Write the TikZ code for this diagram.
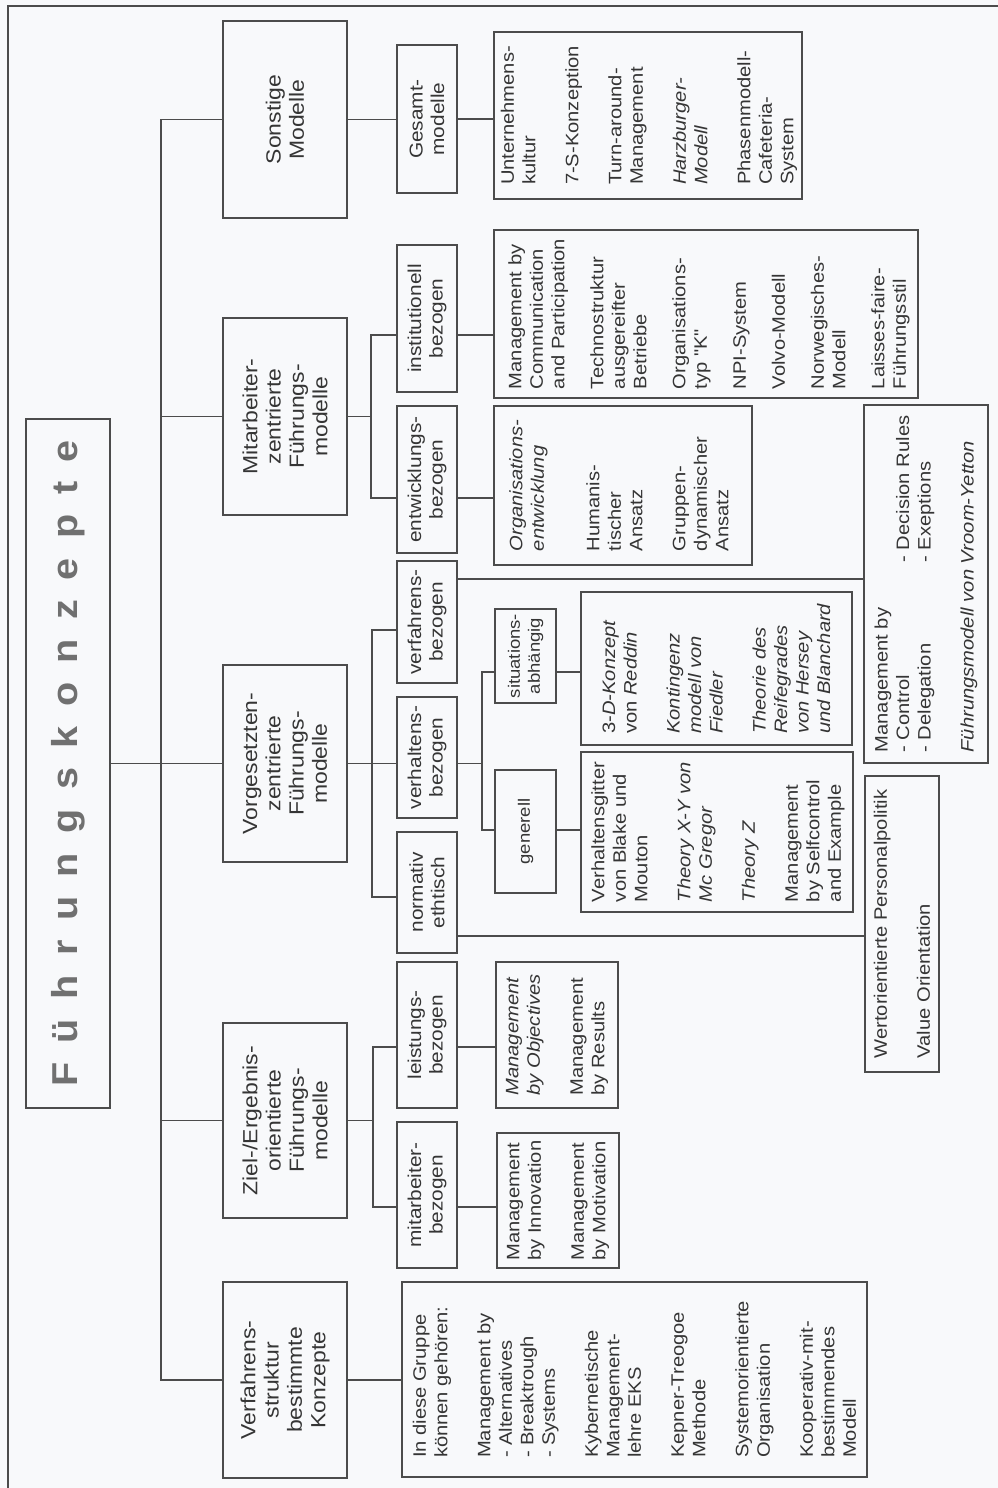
\documentclass[tikz,border=0pt]{standalone}
\usepackage{fontspec}
\newfontfamily\lf[FakeStretch=1.12]{Liberation Sans}
\newfontfamily\ttlf[FakeStretch=1.1]{Liberation Sans}
\definecolor{lc}{HTML}{4C4C4C}
\definecolor{tc}{HTML}{353535}
\definecolor{ttl}{HTML}{707070}
\definecolor{bg}{HTML}{F8F9FB}
\newcommand\tsp{\hspace{19.5pt}}

\begin{document}
\begin{tikzpicture}[x=1pt,y=-1pt,
  conn/.style={draw=lc, line width=1.1pt},
  bx/.style={draw=lc, line width=1.1pt, rotate=90, inner sep=0pt, text=tc},
  lvA/.style={bx, minimum height=124pt, align=center, font=\lf\fontsize{20.5}{23.3}\selectfont},
  lvB/.style={bx, minimum height=60pt, align=center, font=\lf\fontsize{18.6}{21.5}\selectfont},
  lvC/.style={bx, minimum height=61pt, align=center, font=\lf\fontsize{16.5}{20}\selectfont},
  lst/.style={bx},
  lsttxt/.style={rotate=90, inner sep=0pt, align=left, text=tc, font=\lf\fontsize{18}{21.5}\selectfont}
]
\fill[bg] (0,0) rectangle (998,1488);
\useasboundingbox (0,0) rectangle (998,1488);

% outer frame
\draw[lc, line width=1.1pt] (8,1488) -- (8,6) -- (998,6);

% title
\node[bx, minimum width=689pt, minimum height=84pt, text=ttl,
      font=\ttlf\bfseries\fontsize{36}{40}\selectfont] (title) at (68,763.5)
  {F\tsp ü\tsp h\tsp r\tsp u\tsp n\tsp g\tsp s\tsp k\tsp o\tsp n\tsp z\tsp e\tsp p\tsp t\tsp e};

% first level
\node[lvA, minimum width=197pt] (sm) at (285,119.5) {Sonstige\\Modelle};
\node[lvA, minimum width=197pt] (mz) at (285,416.5) {Mitarbeiter-\\zentrierte\\Führungs-\\modelle};
\node[lvA, minimum width=197pt] (vz) at (285,763.5) {Vorgesetzten-\\zentrierte\\Führungs-\\modelle};
\node[lvA, minimum width=195pt] (ze) at (285,1120.5) {Ziel-/Ergebnis-\\orientierte\\Führungs-\\modelle};
\node[lvA, minimum width=196pt] (vs) at (285,1380) {Verfahrens-\\struktur\\bestimmte\\Konzepte};

% second level
\node[lvB, minimum width=148pt] (gm)  at (427,119)   {Gesamt-\\modelle};
\node[lvB, minimum width=147pt] (ib)  at (427,318.5) {institutionell\\bezogen};
\node[lvB, minimum width=147pt] (eb)  at (427,479.5) {entwicklungs-\\bezogen};
\node[lvB, minimum width=122pt] (vfb) at (427,622)   {verfahrens-\\bezogen};
\node[lvB, minimum width=121pt] (vhb) at (427,757.5) {verhaltens-\\bezogen};
\node[lvB, minimum width=121pt] (neb) at (427,892.5) {normativ\\ethtisch};
\node[lvB, minimum width=146pt] (lb)  at (427,1035)  {leistungs-\\bezogen};
\node[lvB, minimum width=146pt] (mb)  at (427,1195)  {mitarbeiter-\\bezogen};

% third level
\node[lvC, minimum width=94pt]  (sa) at (525.5,656)   {situations-\\abhängig};
\node[lvC, minimum width=123pt] (ge) at (525.5,831.5) {generell};

% list boxes
\node[lst, minimum width=167pt, minimum height=308pt] (sl)  at (648,115.5) {};
\node[lst, minimum width=168pt, minimum height=424pt] (il)  at (706,314) {};
\node[lst, minimum width=159pt, minimum height=258pt] (el)  at (623,485.5) {};
\node[lst, minimum width=153pt, minimum height=271pt] (sal) at (716.5,668.5) {};
\node[lst, minimum width=160pt, minimum height=272pt] (gl)  at (717,832) {};
\node[lst, minimum width=358pt, minimum height=124pt] (vr)  at (926,584) {};
\node[lst, minimum width=296pt, minimum height=74pt]  (wo)  at (902,924) {};
\node[lst, minimum width=146pt, minimum height=122pt] (ll)  at (557,1035) {};
\node[lst, minimum width=135pt, minimum height=122pt] (ml)  at (558,1200.5) {};
\node[lst, minimum width=195pt, minimum height=465pt] (vl)  at (634.5,1379.5) {};

% list texts
\node[lsttxt] (sl-t) at (649,115.5) {Unternehmens-\\kultur\\[21.5pt]7-S-Konzeption\\[21.5pt]Turn-around-\\Management\\[21.5pt]\textit{Harzburger-}\\\textit{Modell}\\[21.5pt]Phasenmodell-\\Cafeteria-\\System};
\node[lsttxt] (il-t) at (709,314) {Management by\\Communication\\and Participation\\[17.5pt]Technostruktur\\ausgereifter\\Betriebe\\[17.5pt]Organisations-\\typ "K"\\[17.5pt]NPI-System\\[17.5pt]Volvo-Modell\\[17.5pt]Norwegisches-\\Modell\\[17.5pt]Laisses-faire-\\Führungsstil};
\node[lsttxt] (el-t) at (619,485.5) {\textit{Organisations-}\\\textit{entwicklung}\\[34pt]Humanis-\\tischer\\Ansatz\\[21.5pt]Gruppen-\\dynamischer\\Ansatz};
\node[lsttxt] (sal-t) at (716.5,668.5) {3-\textit{D-Konzept}\\von \textit{Reddin}\\[21.5pt]\textit{Kontingenz}\\\textit{modell von}\\\textit{Fiedler}\\[21.5pt]\textit{Theorie des}\\\textit{Reifegrades}\\\textit{von Hersey}\\\textit{und Blanchard}};
\node[lsttxt] (gl-t) at (718,832) {Verhaltensgitter\\von Blake und\\Mouton\\[21.5pt]\textit{Theory X-Y von}\\\textit{Mc Gregor}\\[21.5pt]\textit{Theory Z}\\[21.5pt]Management\\by Selfcontrol\\and Example};
\node[lsttxt] (vr-t) at (926,584) {Management by\\\makebox[190pt][l]{- Control}- Decision Rules\\\makebox[190pt][l]{- Delegation}- Exeptions\\[21.5pt]\textit{Führungsmodell von Vroom-Yetton}};
\node[lsttxt] (wo-t) at (902,924) {Wertorientierte Personalpolitik\\[21.5pt]Value Orientation};
\node[lsttxt] (ll-t) at (557,1035) {\textit{Management}\\\textit{by Objectives}\\[21.5pt]Management\\by Results};
\node[lsttxt] (ml-t) at (558,1200.5) {Management\\by Innovation\\[21.5pt]Management\\by Motivation};
\node[lsttxt] (vl-t) at (634.5,1379.5) {In diese Gruppe\\können gehören:\\[21.5pt]Management by\\- Alternatives\\- Breaktrough\\- Systems\\[21.5pt]Kybernetische\\Management-\\lehre EKS\\[21.5pt]Kepner-Treogoe\\Methode\\[21.5pt]Systemorientierte\\Organisation\\[21.5pt]Kooperativ-mit-\\bestimmendes\\Modell};

% main trunk
\coordinate (trk) at (161,0);
\draw[conn] (sm.north) -- (sm.north -| trk) -- (vs.north -| trk) -- (vs.north);
\draw[conn] (mz.north) -- (mz.north -| trk);
\draw[conn] (ze.north) -- (ze.north -| trk);
\draw[conn] (title.south) -- (vz.north);

% Sonstige Modelle
\draw[conn] (sm.south) -- (sm.south -| gm.north);
\draw[conn] (gm.south) -- (gm.south -| sl.north);

% Mitarbeiter-zentrierte Modelle
\coordinate (m1) at (371,335);
\coordinate (m2) at (371,498);
\draw[conn] (mz.south) -- (mz.south -| m1);
\draw[conn] (ib.north |- m1) -- (m1) -- (m2) -- (eb.north |- m2);
\draw[conn] (ib.south |- m1) -- (il.north |- m1);
\draw[conn] (eb.south |- m2) -- (el.north |- m2);

% Vorgesetzten-zentrierte Modelle
\coordinate (v1) at (372,630);
\coordinate (v2) at (372,897);
\coordinate (v3) at (0,579);
\coordinate (n3) at (0,936);
\draw[conn] (vz.south) -- (vz.south -| vhb.north);
\draw[conn] (vfb.north |- v1) -- (v1) -- (v2) -- (neb.north |- v2);
\draw[conn] (vfb.south |- v3) -- (vr.north |- v3);
\draw[conn] (neb.south |- n3) -- (wo.north |- n3);
\coordinate (h1) at (482,672);
\coordinate (h2) at (482,830);
\draw[conn] (vhb.south |- vz.south) -- (h1 |- vz.south);
\draw[conn] (sa.north |- h1) -- (h1) -- (h2) -- (ge.north |- h2);
\draw[conn] (sa.south |- h1) -- (sal.north |- h1);
\draw[conn] (ge.south |- h2) -- (gl.north |- h2);

% Ziel-/Ergebnis-orientierte Modelle
\coordinate (z1) at (373,1047);
\coordinate (z2) at (373,1207);
\draw[conn] (ze.south) -- (ze.south -| z1);
\draw[conn] (lb.north |- z1) -- (z1) -- (z2) -- (mb.north |- z2);
\draw[conn] (lb.south |- z1) -- (ll.north |- z1);
\draw[conn] (mb.south |- z2) -- (ml.north |- z2);

% Verfahrensstruktur
\draw[conn] (vs.south) -- (vs.south -| vl.north);
\end{tikzpicture}
\end{document}
